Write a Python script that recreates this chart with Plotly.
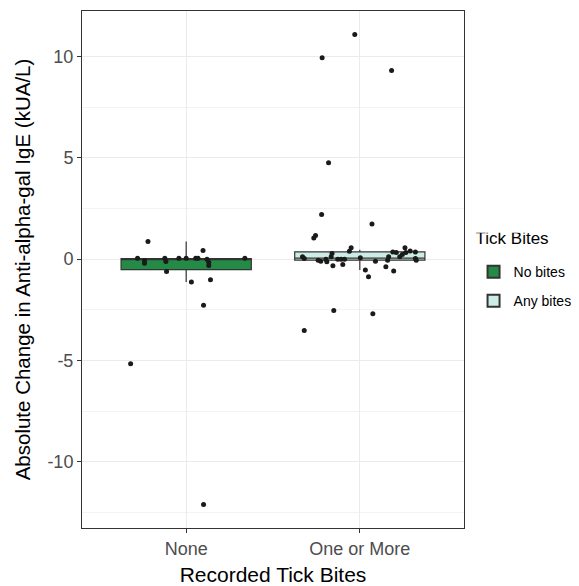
import plotly.graph_objects as go

# ---------------- data ----------------
categories = ["None", "One or More"]
legend_names = ["No bites", "Any bites"]
fill_colors = ["#238B45", "#CCECE6"]

# box statistics
box_q1 = [-0.52, -0.05]
box_median = [0.02, 0.05]
box_q3 = [0.03, 0.36]
box_lowerfence = [-1.13, -0.54]
box_upperfence = [0.87, 0.47]

# individual observations, group "None"
none_values = [0.87, 0.05, -0.06, -0.20, 0.05, -0.11, -0.61, 0.05, 0.05, 0.05,
               0.05, 0.43, -0.01, -0.15, -0.31, -1.13, -1.02, -2.28, 0.05,
               -5.16, -12.11]
none_jitter = [-0.22, -0.28, -0.24, -0.24, -0.123, -0.117, -0.113, -0.042, 0.0,
               0.055, 0.068, 0.097, 0.12, 0.13, 0.13, 0.03, 0.14, 0.10, 0.338,
               -0.32, 0.10]

# individual observations, group "One or More"
any_values = [9.94, 11.09, 9.31, 4.76, 2.20, 1.73, 1.17, 1.05,
              0.56, 0.39, 0.56, 0.33, 0.36, 0.33, 0.12, 0.23, 0.40, 0.36, 0.03, -0.05,
              0.12, 0.03, -0.05, -0.10, 0.00, -0.13, 0.28, 0.12, -0.33, 0.00, 0.00,
              0.00, -0.26, 0.07, -0.54, -0.87, -0.10, -0.38, -0.05, 0.12, -0.59,
              -2.53, -2.69, -3.52]
any_jitter = [-0.217, -0.029, 0.183, -0.18, -0.22, 0.07, -0.255, -0.265,
              -0.05, -0.06, 0.26, 0.265, 0.19, 0.21, 0.23, 0.245, 0.29, 0.32, 0.32, 0.325,
              -0.33, -0.32, -0.24, -0.225, -0.195, -0.19, -0.16, -0.165, -0.155, -0.127,
              -0.108, -0.088, -0.098, 0.003, 0.032, 0.05, 0.09, 0.15, 0.16, 0.166, 0.195,
              -0.15, 0.075, -0.32]

y_ticks = [-10, -5, 0, 5, 10]
y_tick_labels = ["-10", "-5", "0", "5", "10"]

# ---------------- figure ----------------
FONT = "Liberation Sans, Arial, Helvetica, sans-serif"
fig = go.Figure()

for i, cat in enumerate(categories):
    fig.add_trace(go.Box(
        x=[i + 1], q1=[box_q1[i]], median=[box_median[i]], q3=[box_q3[i]],
        lowerfence=[box_lowerfence[i]], upperfence=[box_upperfence[i]],
        name=legend_names[i], legendgroup=legend_names[i],
        width=0.75, whiskerwidth=0,
        fillcolor=fill_colors[i], line=dict(color="#333333", width=1.2),
        boxpoints=False, showlegend=True, hoverinfo="skip",
    ))

groups = [(none_values, none_jitter), (any_values, any_jitter)]
for i, (vals, jit) in enumerate(groups):
    fig.add_trace(go.Scatter(
        x=[i + 1 + j for j in jit], y=vals, mode="markers",
        marker=dict(color="#1A1A1A", size=5, line=dict(width=0)),
        showlegend=False, hoverinfo="skip",
    ))

# the page body has an 8px margin, so the figure is 8px smaller than the window
fig.update_layout(
    width=571, height=578,
    margin=dict(l=74, r=115, t=3, b=58, autoexpand=False),
    paper_bgcolor="white", plot_bgcolor="white",
    boxmode="overlay",
    font=dict(family=FONT, color="black"),
    legend=dict(
        title=dict(text="<span style='font-size:17px'>Tick Bites</span><br> ",
                   font=dict(size=9, color="black")),
        font=dict(size=14, color="black"),
        x=1.025, xanchor="left", y=0.49, yanchor="middle",
        bgcolor="rgba(0,0,0,0)", tracegroupgap=8, itemsizing="constant",
    ),
)

fig.update_xaxes(
    range=[0.4, 2.6], tickvals=[1, 2], ticktext=categories,
    showgrid=True, gridcolor="#EBEBEB", gridwidth=1,
    zeroline=False, showline=True, linecolor="#333333", linewidth=1, mirror=True,
    ticks="outside", ticklen=4, tickcolor="#333333", tickwidth=1,
    tickfont=dict(size=18, color="#4D4D4D"), automargin=False,
    title=dict(text="Recorded Tick Bites", font=dict(size=21, color="black"), standoff=11),
)

fig.update_yaxes(
    range=[-13.27, 12.25], tickvals=y_ticks, ticktext=y_tick_labels,
    showgrid=True, gridcolor="#EBEBEB", gridwidth=1,
    minor=dict(tick0=2.5, dtick=5, showgrid=True, gridcolor="#F3F3F3", gridwidth=0.6, ticks=""),
    zeroline=False, showline=True, linecolor="#333333", linewidth=1, mirror=True,
    ticks="outside", ticklen=4, tickcolor="#333333", tickwidth=1,
    tickfont=dict(size=18, color="#4D4D4D"), automargin=False,
    title=dict(text="Absolute Change in Anti-alpha-gal IgE (kUA/L)",
               font=dict(size=20.5, color="black"), standoff=11),
)

fig.write_html("out.html")
